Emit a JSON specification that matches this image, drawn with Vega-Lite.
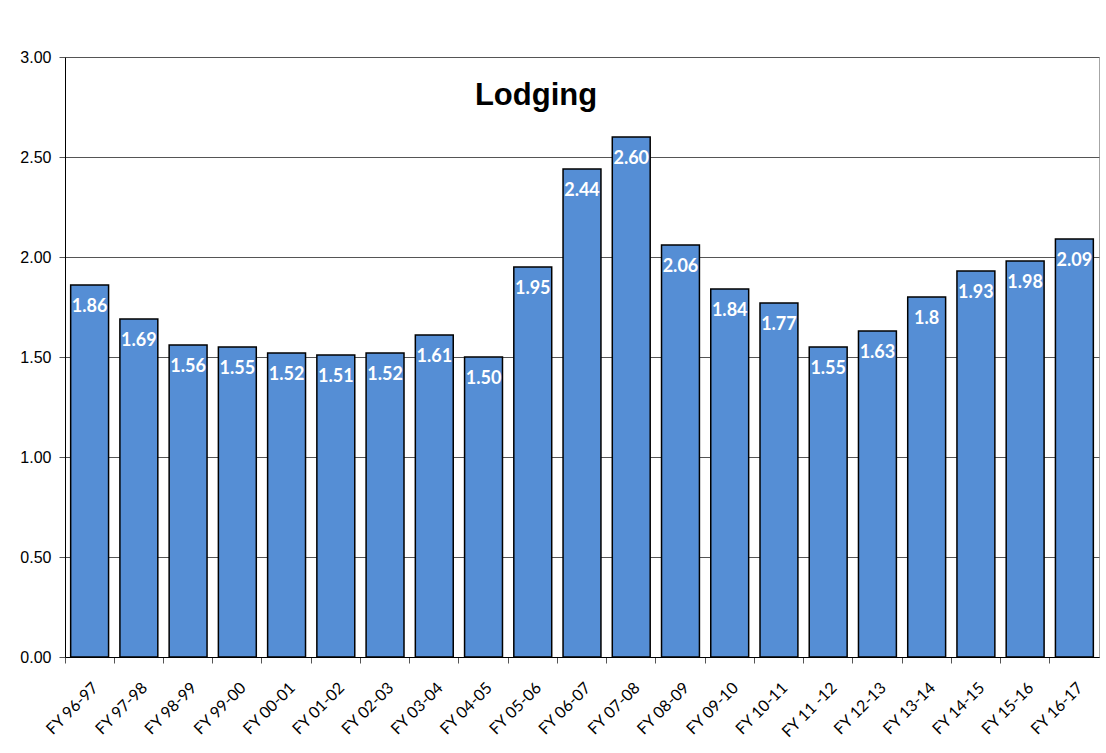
{
  "$schema": "https://vega.github.io/schema/vega-lite/v6.json",
  "width": 1034,
  "height": 600,
  "autosize": {"type": "none"},
  "padding": {"left": 65, "top": 57, "right": 7, "bottom": 96},
  "background": "white",
  "title": {
    "text": "Lodging",
    "anchor": "middle",
    "orient": "top",
    "offset": -48,
    "dx": -46,
    "dy": 39,
    "font": "Liberation Sans",
    "fontSize": 31,
    "fontWeight": "bold",
    "color": "black",
    "baseline": "alphabetic"
  },
  "config": {
    "view": {"stroke": "#a6a6a6", "strokeWidth": 1}
  },
  "data": {
    "values": [
      {"year": "FY 96-97", "value": 1.86, "label": "1.86"},
      {"year": "FY 97-98", "value": 1.69, "label": "1.69"},
      {"year": "FY 98-99", "value": 1.56, "label": "1.56"},
      {"year": "FY 99-00", "value": 1.55, "label": "1.55"},
      {"year": "FY 00-01", "value": 1.52, "label": "1.52"},
      {"year": "FY 01-02", "value": 1.51, "label": "1.51"},
      {"year": "FY 02-03", "value": 1.52, "label": "1.52"},
      {"year": "FY 03-04", "value": 1.61, "label": "1.61"},
      {"year": "FY 04-05", "value": 1.50, "label": "1.50"},
      {"year": "FY 05-06", "value": 1.95, "label": "1.95"},
      {"year": "FY 06-07", "value": 2.44, "label": "2.44"},
      {"year": "FY 07-08", "value": 2.60, "label": "2.60"},
      {"year": "FY 08-09", "value": 2.06, "label": "2.06"},
      {"year": "FY 09-10", "value": 1.84, "label": "1.84"},
      {"year": "FY 10-11", "value": 1.77, "label": "1.77"},
      {"year": "FY 11 -12", "value": 1.55, "label": "1.55"},
      {"year": "FY 12-13", "value": 1.63, "label": "1.63"},
      {"year": "FY 13-14", "value": 1.8, "label": "1.8"},
      {"year": "FY 14-15", "value": 1.93, "label": "1.93"},
      {"year": "FY 15-16", "value": 1.98, "label": "1.98"},
      {"year": "FY 16-17", "value": 2.09, "label": "2.09"}
    ]
  },
  "encoding": {
    "x": {
      "field": "year",
      "type": "nominal",
      "sort": null,
      "scale": {"paddingInner": 0, "paddingOuter": 0},
      "axis": {
        "title": null,
        "bandPosition": 0,
        "labelOffset": 6,
        "labelAngle": -45,
        "labelAlign": "right",
        "labelBaseline": "middle",
        "labelFont": "Lato",
        "labelFontSize": 16,
        "labelColor": "black",
        "labelPadding": 22,
        "tickColor": "#555555",
        "tickSize": 6,
        "domainColor": "black",
        "grid": false
      }
    },
    "y": {
      "field": "value",
      "type": "quantitative",
      "scale": {"domain": [0, 3], "nice": false},
      "axis": {
        "title": null,
        "values": [0, 0.5, 1, 1.5, 2, 2.5, 3],
        "format": ".2f",
        "labelFont": "Liberation Sans",
        "labelFontSize": 16,
        "labelColor": "black",
        "labelPadding": 8,
        "tickColor": "#555555",
        "tickSize": 6,
        "domainColor": "black",
        "gridColor": "#555555",
        "gridWidth": 1
      }
    }
  },
  "layer": [
    {
      "mark": {
        "type": "bar",
        "width": {"band": 0.77},
        "fill": "#558ed5",
        "stroke": "black",
        "strokeWidth": 1.5
      }
    },
    {
      "mark": {
        "type": "text",
        "baseline": "middle",
        "dy": 22,
        "font": "Lato",
        "fontSize": 18,
        "fontWeight": "bold",
        "color": "white"
      },
      "encoding": {"text": {"field": "label"}}
    }
  ]
}
